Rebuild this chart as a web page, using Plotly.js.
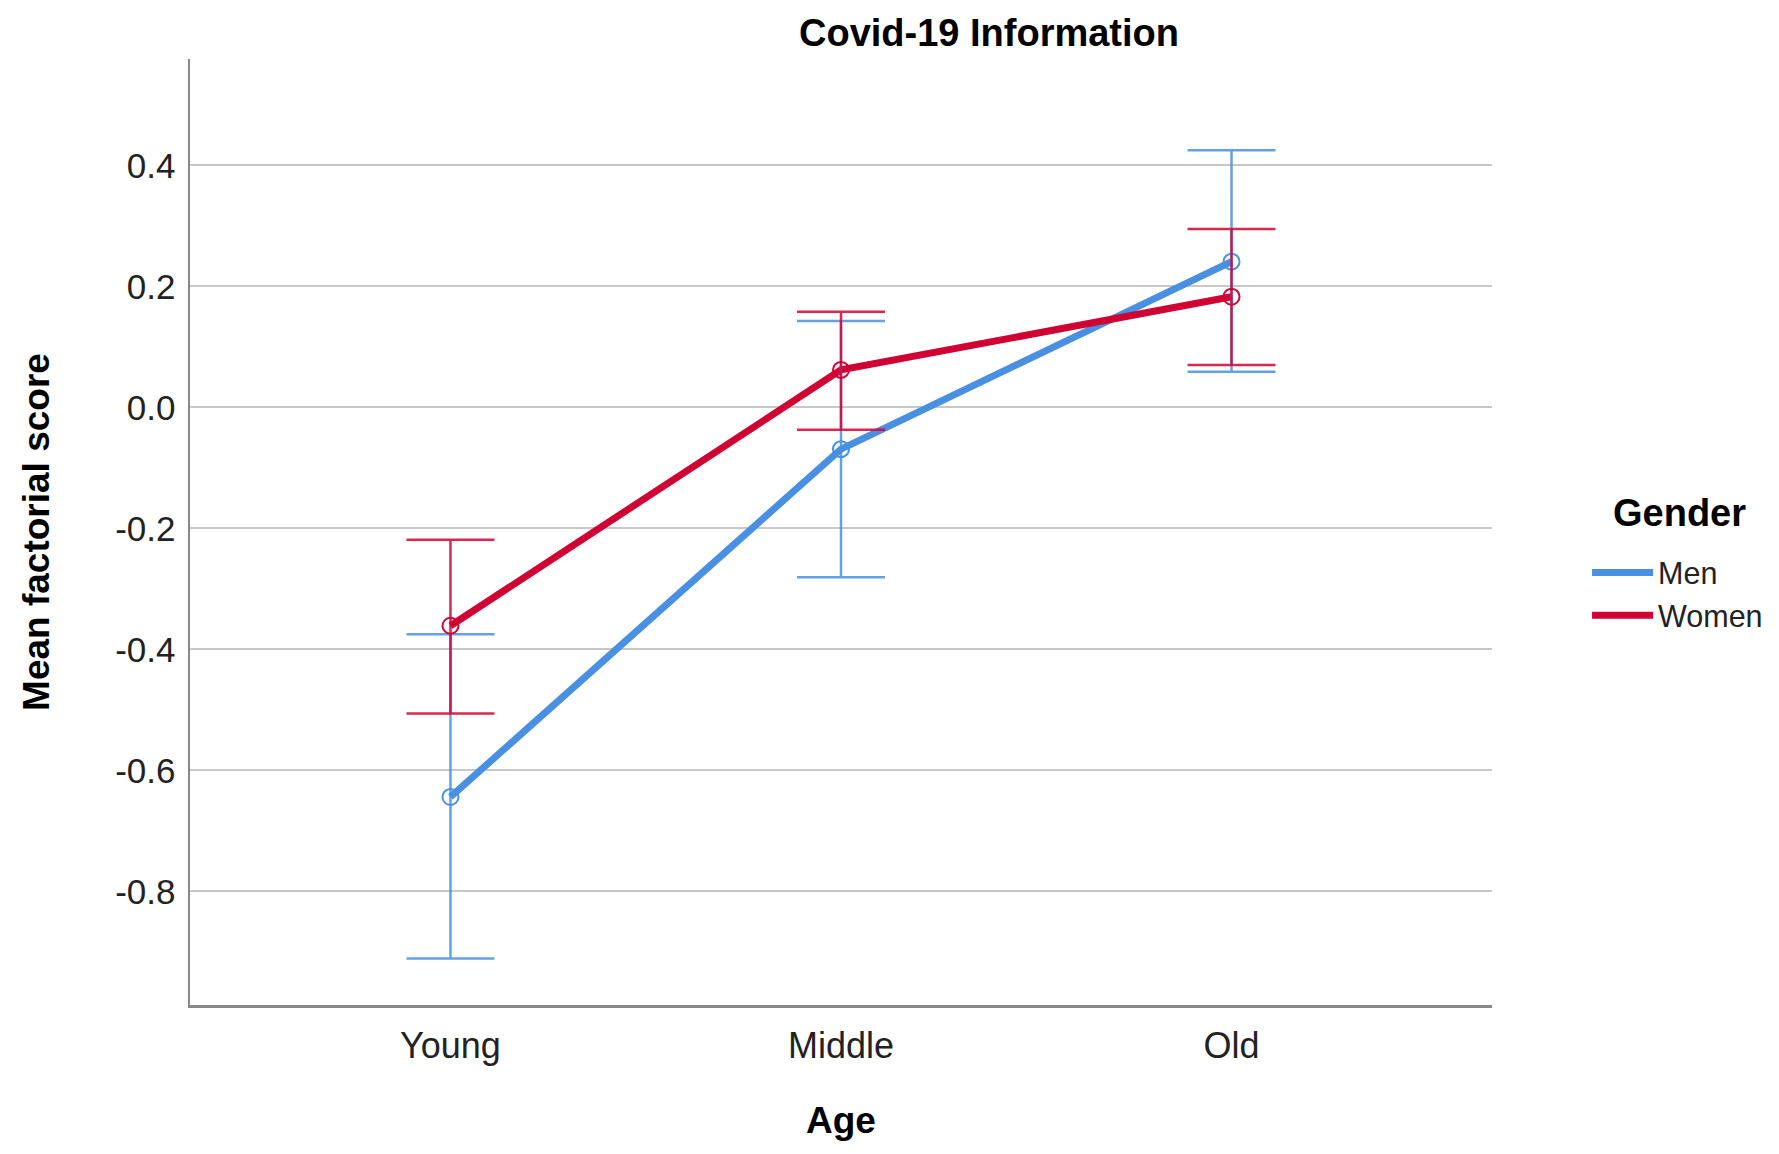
<!DOCTYPE html>
<html>
<head>
<meta charset="utf-8">
<script src="https://cdn.plot.ly/plotly-3.0.1.min.js"></script>
<style>html,body{margin:0;padding:0;background:#fff;}#chart{width:1779px;height:1154px;}</style>
</head>
<body>
<div id="chart"></div>
<script>
// Categories and values
const ageGroups = ["Young", "Middle", "Old"];
const menMean   = [-0.644, -0.069, 0.241];
const menUpper  = [-0.375, 0.143, 0.425];
const menLower  = [-0.911, -0.281, 0.059];
const womenMean  = [-0.361, 0.062, 0.183];
const womenUpper = [-0.219, 0.158, 0.295];
const womenLower = [-0.506, -0.037, 0.070];
const yTickVals   = [-0.8, -0.6, -0.4, -0.2, 0.0, 0.2, 0.4];
const yTickLabels = ["-0.8", "-0.6", "-0.4", "-0.2", "0.0", "0.2", "0.4"];
const legendTitle = "Gender";

const BLUE = "rgb(74,144,226)";
const RED = "rgb(208,2,52)";
const FONT = "Liberation Sans, Arial, sans-serif";

function diff(a, b) { return a.map((v, i) => v - b[i]); }

const traces = [
  { type: "scatter", mode: "lines", name: "Men", legendgroup: "m",
    x: ageGroups, y: menMean, line: { color: BLUE, width: 7 } },
  { type: "scatter", mode: "lines", name: "Women", legendgroup: "w",
    x: ageGroups, y: womenMean, line: { color: RED, width: 7 } },
  { type: "scatter", mode: "markers", name: "Men", legendgroup: "m", showlegend: false,
    x: ageGroups, y: menMean,
    marker: { symbol: "circle-open", size: 16, color: BLUE, line: { width: 2, color: BLUE } },
    error_y: { type: "data", symmetric: false, array: diff(menUpper, menMean),
      arrayminus: diff(menMean, menLower), color: "rgba(74,144,226,0.85)", thickness: 2.5, width: 44 } },
  { type: "scatter", mode: "markers", name: "Women", legendgroup: "w", showlegend: false,
    x: ageGroups, y: womenMean,
    marker: { symbol: "circle-open", size: 16, color: RED, line: { width: 2, color: RED } },
    error_y: { type: "data", symmetric: false, array: diff(womenUpper, womenMean),
      arrayminus: diff(womenMean, womenLower), color: "rgba(208,2,52,0.85)", thickness: 2.5, width: 44 } }
];

const layout = {
  width: 1779, height: 1154,
  paper_bgcolor: "#fff", plot_bgcolor: "#fff",
  font: { family: FONT, color: "#222" },
  margin: { l: 190, r: 287, t: 59, b: 149, autoexpand: false },
  title: { text: "<b>Covid-19 Information</b>", xref: "container", yref: "container",
    x: 989 / 1779, xanchor: "center", y: 1 - 33 / 1154, yanchor: "middle",
    font: { family: FONT, size: 38, color: "#000" } },
  xaxis: {
    type: "category", range: [-0.667, 2.667], showgrid: false, zeroline: false,
    showline: true, linecolor: "#888", linewidth: 2.5, ticks: "", ticklabelstandoff: 7,
    tickfont: { family: FONT, size: 36, color: "#222" },
    title: { text: "<b>Age</b>", standoff: 43, font: { family: FONT, size: 37, color: "#000" } },
    automargin: false, fixedrange: true
  },
  yaxis: {
    range: [-0.988, 0.576], tickvals: yTickVals, ticktext: yTickLabels,
    showgrid: true, gridcolor: "#c8c8c8", gridwidth: 2, zeroline: false,
    showline: true, linecolor: "#888", linewidth: 2.5, ticks: "", ticklabelstandoff: 5,
    tickfont: { family: FONT, size: 35, color: "#222" },
    title: { text: "<b>Mean factorial score</b>", standoff: 54, font: { family: FONT, size: 37, color: "#000" } },
    automargin: false, fixedrange: true
  },
  legend: {
    x: 1.073, xanchor: "left", y: 0.485, yanchor: "top",
    bgcolor: "rgba(0,0,0,0)", itemwidth: 61, tracegroupgap: 0,
    font: { family: FONT, size: 30.5, color: "#222" }
  },
  annotations: [
    { text: "<b>" + legendTitle + "</b>", xref: "paper", yref: "paper",
      x: (1679 - 190) / 1302, y: (1005 - 513) / 946, xanchor: "center", yanchor: "middle",
      showarrow: false, font: { family: FONT, size: 38, color: "#000" } }
  ],
  showlegend: true
};

Plotly.newPlot("chart", traces, layout, { displayModeBar: false, staticPlot: true });
</script>
</body>
</html>
